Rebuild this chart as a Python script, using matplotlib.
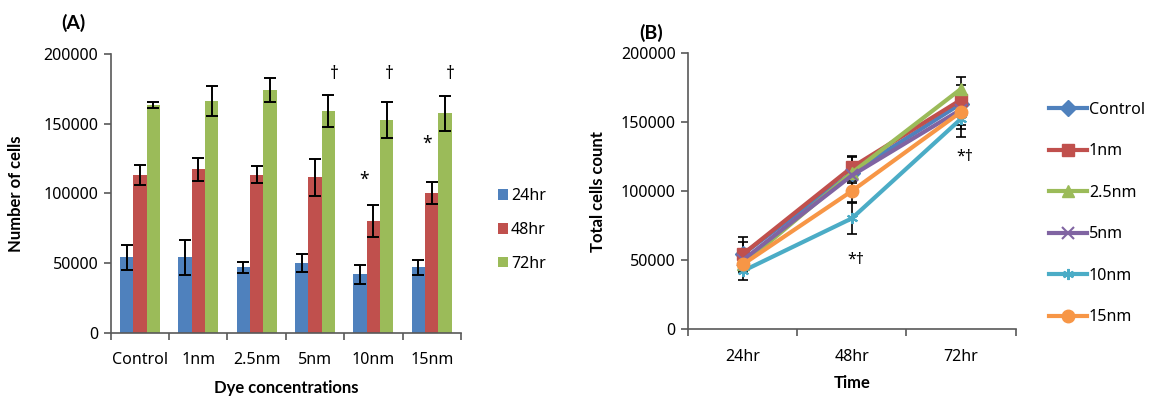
import numpy as np
import matplotlib.pyplot as plt
from matplotlib.lines import Line2D

# Data ------------------------------------------
concentrations = ['Control', '1nm', '2.5nm', '5nm', '10nm', '15nm']
times = ['24hr', '48hr', '72hr']
means_24 = [54400, 54400, 47000, 50100, 42200, 47000]
means_48 = [113400, 117400, 113400, 111500, 80400, 100200]
means_72 = [163500, 166300, 174200, 159200, 152500, 157500]
err_24 = [9000, 12500, 4200, 6500, 6800, 5500]
err_48 = [7200, 8300, 6000, 13000, 11300, 8000]
err_72 = [2400, 10700, 8800, 11300, 13000, 12700]
# significance marks (text, category index, y value)
marks_a = [('†', 3.33, 186000), ('†', 4.27, 186000), ('†', 5.32, 186000),
           ('*', 3.84, 109800), ('*', 4.92, 135500)]
marks_b = [('*†', 1.04, 50200), ('*†', 2.04, 125100)]
# -----------------------------------------------
plt.rcParams['font.family'] = ['Noto Sans', 'DejaVu Sans']
BOLD = ['Lato', 'DejaVu Sans']
W, H = 1156, 401
bar_colors = ['#4F81BD', '#C0504D', '#9BBB59']
line_colors = ['#4F81BD', '#C0504D', '#9BBB59', '#8064A2', '#4BACC6', '#F79646']
line_markers = ['D', 's', '^', 'x', (6, 2, 0), 'o']
spine_col = '#595959'
fs = 11.5

fig = plt.figure(figsize=(W/100, H/100), dpi=100)
ax1 = fig.add_axes([110.7/W, (H-333)/H, (461-110.7)/W, (333-54)/H])
ax2 = fig.add_axes([688.3/W, (H-329.3)/H, (1015.5-688.3)/W, (329.3-53.3)/H])

def style(ax, n):
	for s in ['top', 'right']:
		ax.spines[s].set_visible(False)
	for s in ['left', 'bottom']:
		ax.spines[s].set_color(spine_col)
		ax.spines[s].set_linewidth(1.2)
	ax.set_ylim(0, 200000)
	ax.set_yticks(np.arange(0, 200001, 50000))
	ax.set_xlim(-0.5, n-0.5)
	ax.set_xticks(np.arange(n))
	ax.set_xticks(np.arange(n+1)-0.5, minor=True)
	ax.tick_params(axis='x', which='major', length=0, labelsize=fs, pad=14)
	ax.tick_params(axis='x', which='minor', length=5, color=spine_col, width=1.2)
	ax.tick_params(axis='y', length=5, color=spine_col, width=1.2, labelsize=fs, pad=4)

# PLOT A ----------------------------------------
x = np.arange(len(concentrations))
bw = 0.228
for k, (m, e) in enumerate(zip([means_24, means_48, means_72], [err_24, err_48, err_72])):
	ax1.bar(x + (k-1)*bw, m, bw, color=bar_colors[k], label=times[k], zorder=2)
	ax1.errorbar(x + (k-1)*bw, m, yerr=e, fmt='none', ecolor='black', elinewidth=1.4,
		capsize=4, capthick=1.4, zorder=3)
style(ax1, len(concentrations))
ax1.set_xticklabels(concentrations)
for t, xi, yi in marks_a:
	ax1.text(xi, yi, t, ha='center', va='center', fontsize=fs+1, color='black')
ax1.set_ylabel('Number of cells', fontsize=fs+0.5, fontweight='bold', family=BOLD, va='center')
ax1.yaxis.set_label_coords((16-110.7)/(461-110.7), 0.5)
ax1.set_xlabel('Dye concentrations', fontsize=fs+0.5, fontweight='bold', family=BOLD, va='center')
ax1.xaxis.set_label_coords(0.5, -(388-333)/(333-54))
fig.text(73.6/W, 1-23/H, '(A)', fontsize=14, fontweight='bold', family=BOLD, ha='center', va='center')
ax1.legend(loc='center left', bbox_to_anchor=(490/W, 1-230/H), bbox_transform=fig.transFigure,
	frameon=False, fontsize=fs, handlelength=0.65, handleheight=0.65, handletextpad=0.15,
	labelspacing=1.1, borderpad=0)

# PLOT B ----------------------------------------
series = list(zip(means_24, means_48, means_72))
errs = list(zip(err_24, err_48, err_72))
xt = np.arange(len(times))
handles = []
for k in range(len(concentrations)):
	ax2.errorbar(xt, series[k], yerr=errs[k], fmt='none', ecolor='black', elinewidth=1.2,
		capsize=3.5, capthick=1.2, zorder=2)
for k in range(len(concentrations)):
	mk = line_markers[k]
	ms = 9 if mk in ['o', 's'] else 8
	mew = 1.5 if mk in ['x', (6, 2, 0)] else 1
	ax2.plot(xt, series[k], color=line_colors[k], lw=3, marker=mk, markersize=ms,
		markeredgewidth=mew, zorder=3+k)
	handles.append(Line2D([], [], color=line_colors[k], lw=3, marker=mk, markersize=ms,
		markeredgewidth=mew, label=concentrations[k]))
style(ax2, len(times))
ax2.set_xticklabels(times)
for t, xi, yi in marks_b:
	ax2.text(xi, yi, t, ha='center', va='center', fontsize=fs, color='black')
ax2.set_ylabel('Total cells count', fontsize=fs+0.5, fontweight='bold', family=BOLD, va='center')
ax2.yaxis.set_label_coords((598-688.3)/(1015.5-688.3), 0.5)
ax2.set_xlabel('Time', fontsize=fs+0.5, fontweight='bold', family=BOLD, va='center')
ax2.xaxis.set_label_coords(0.5, -(383-329.3)/(329.3-53.3))
fig.text(651.6/W, 1-33/H, '(B)', fontsize=14, fontweight='bold', family=BOLD, ha='center', va='center')
ax2.legend(handles=handles, loc='center left', bbox_to_anchor=(1041/W, 1-213.5/H),
	bbox_transform=fig.transFigure, frameon=False, fontsize=fs, handlelength=2.4,
	handletextpad=0.1, labelspacing=1.6, borderpad=0)

fig.savefig('out.png', dpi=100)
